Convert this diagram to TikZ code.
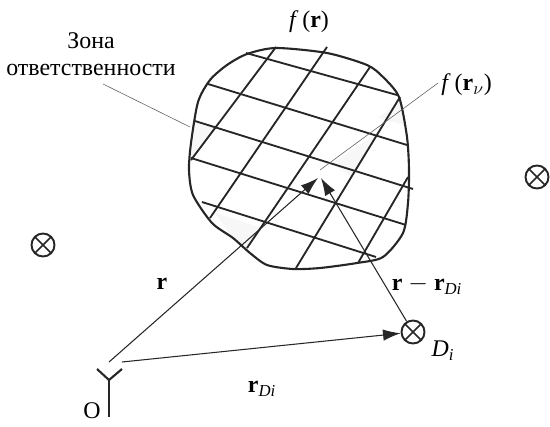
\documentclass[tikz,border=0pt]{standalone}
\usepackage{fontspec}
\setmainfont{Liberation Serif}
\usetikzlibrary{arrows.meta}
\begin{document}
\begin{tikzpicture}[
      x=0.02cm, y=-0.02cm,
      every node/.style={font=\fontsize{13.6}{15.5}\selectfont, inner sep=0pt},
      outline/.style={line width=1.2pt, black!85},
      gridline/.style={line width=1.05pt, black!85},
      smudge/.style={fill=black!3, draw=none},
      leader/.style={line width=0.35pt, black!60},
      vector/.style={line width=0.6pt, black!85, -{Latex[length=10pt,width=6.5pt]}},
      antenna/.style={line width=1.2pt, black!85},
      target/.style={circle, draw=black!85, line width=1.1pt, minimum size=0.46cm,
        path picture={
          \draw[line width=0.9pt, black!85] (path picture bounding box.north west) -- (path picture bounding box.south east);
          \draw[line width=0.9pt, black!85] (path picture bounding box.north east) -- (path picture bounding box.south west);
        }}
  ]
    \useasboundingbox (0,0) rectangle (550,426);

    % faint patches inside the zone
    \fill[smudge] (195,121) -- (217,128) -- (191,158) -- cycle;
    \fill[smudge] (214,212) -- (262,228) -- (247,248) -- (233,238) -- cycle;
    \fill[smudge] (332,163) -- (375,135) -- (352,178) -- cycle;
    \fill[smudge] (401,100) -- (404,125) -- (378,118) -- cycle;

    % zone outline
    \draw[outline] plot[smooth cycle, tension=0.45] coordinates {
      (247,54) (276,48) (327,53) (367,65) (383,77) (399,97) (407,137) (409,170)
      (408,203) (403,233) (383,257) (357,263) (320,268) (293,269) (267,265)
      (250,253) (233,238) (212,223) (193,195) (189,170) (191,143) (198,102)
      (210,80) (227,65)};

    % grid
    \foreach \xa/\ya/\xb/\yb in {
      246/53/397/95, 208/84/407/145, 195/121/413/189, 191/158/406/225, 202/202/376/257,
      191/160/276/47, 210/218/327/47, 247/248/370/67, 296/268/400/97, 358/263/408/177} {
      \draw[gridline] (\xa,\ya) -- (\xb,\yb);
    }

    % sensors
    \node[target] (sensora) at (43,245) {};
    \node[target] (sensorb) at (537,177) {};
    \node[target] (sensord) at (413,332) {};

    % antenna
    \coordinate (stem) at (109,380);
    \coordinate (stemend) at (109,417);
    \coordinate (arml) at (97,369);
    \coordinate (armr) at (122,369);
    \draw[antenna] (stemend) -- (stem);
    \draw[antenna] (arml) -- (stem) -- (armr);

    % vectors
    \coordinate (origin) at (109,362);
    \coordinate (originr) at (122,362);
    \coordinate (point) at (318,178);
    \coordinate (pointd) at (321,178);
    \coordinate (pointv) at (320,170);
    \coordinate (frvend) at (438,83);
    \draw[vector] (origin) -- (point);
    \draw[vector] (sensord) -- (pointd);
    \draw[vector] (originr) -- (sensord);

    % labels
    \node (fr) at (309,22) {\textit{f}\,(\textbf{r})};
    \node[align=center] (zone) at (91,54) {Зона\\ответственности};
    \coordinate (zonetip) at (103,84);
    \coordinate (zoneend) at (190,127);
    \draw[leader] (zonetip) -- (zoneend);
    \node[anchor=west] (frv) at (441,85) {\textit{f}\,(\textbf{r}$_\nu$)};
    \draw[leader] (frvend) -- (pointv);
    \node (rlabel) at (162,284) {\textbf{r}};
    \node (rdiff) at (427,285) {\textbf{r} $-$ \textbf{r}\textsubscript{\textit{Di}}};
    \node (dlabel) at (443,351) {\textit{D\textsubscript{i}}};
    \node (rdi) at (262,389) {\textbf{r}\textsubscript{\textit{Di}}};
    \node (olabel) at (92,411) {O};
\end{tikzpicture}
\end{document}
